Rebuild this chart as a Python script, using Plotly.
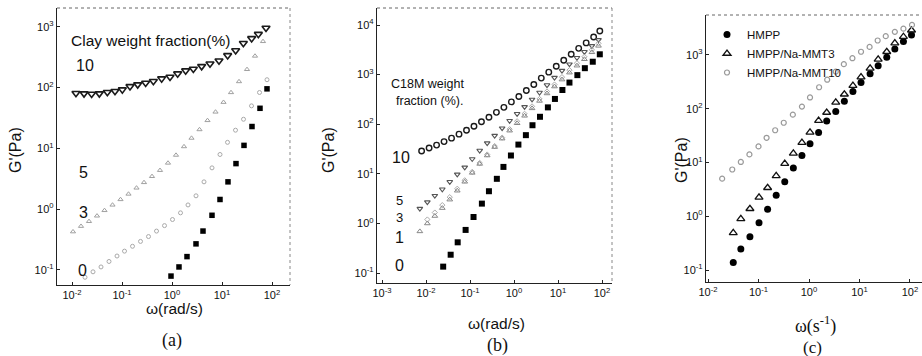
import plotly.graph_objects as go

W, H = 922, 356

# ---------------- Panel (a): clay weight fraction ----------------
a_w10 = [0.0120, 0.0174, 0.0247, 0.0352, 0.0509, 0.0724, 0.1016, 0.1445, 0.206, 0.297,
         0.424, 0.621, 0.912, 1.297, 1.875, 2.673, 3.917, 5.754, 8.71, 12.97,
         18.75, 26.73, 39.17, 53.33, 75.86]
a_g10 = [80.7, 79.8, 78.7, 79.8, 83.8, 87.1, 92.7, 104.7, 112.2, 119.4,
         127.1, 140.6, 149.6, 169.8, 190.1, 202.3, 223.9, 247.2, 277.3, 338.8,
         407.4, 537.0, 645.7, 758.6, 955.0]

a_w5 = [0.01047, 0.01514, 0.02188, 0.03162, 0.04467, 0.06457, 0.09333, 0.1349, 0.1950, 0.2754,
        0.3981, 0.5754, 0.8318, 1.202, 1.738, 2.455, 3.548, 5.129, 7.413, 10.72,
        15.14, 21.88, 31.62, 45.71, 66.07]
a_g5 = [0.4266, 0.5248, 0.631, 0.7762, 0.955, 1.175, 1.445, 1.778, 2.239, 2.754,
        3.467, 4.365, 5.754, 7.762, 10.72, 14.79, 20.42, 28.84, 39.81, 57.54,
        83.18, 125.9, 199.5, 331.1, 575.4]

a_w3 = [0.01820, 0.02630, 0.03802, 0.05495, 0.07943, 0.1122, 0.1622, 0.2344, 0.3388, 0.4898,
        0.7079, 1.023, 1.479, 2.089, 3.020, 4.365, 6.310, 9.120, 12.88, 18.62,
        26.92, 38.90, 56.23, 79.43]
a_g3 = [0.0759, 0.0933, 0.1122, 0.1380, 0.1698, 0.2042, 0.2455, 0.2951, 0.3548, 0.4365,
        0.5370, 0.6761, 0.8710, 1.175, 1.660, 2.818, 4.786, 7.943, 12.59, 19.95,
        30.20, 50.12, 83.18, 134.9]

a_w0 = [0.955, 1.380, 1.995, 3.020, 4.169, 6.310, 9.120, 13.18, 19.05, 27.54, 39.81, 57.54, 79.43]
a_g0 = [0.0794, 0.1122, 0.166, 0.269, 0.437, 0.794, 1.445, 2.818, 5.623, 11.22, 22.91, 45.71, 95.50]

# ---------------- Panel (b): C18M weight fraction ----------------
b_w10 = [0.007943, 0.01175, 0.01738, 0.02570, 0.03802, 0.05623, 0.08318, 0.1230, 0.1820, 0.2692,
         0.3981, 0.5888, 0.8710, 1.288, 1.905, 2.818, 4.169, 6.166, 9.120, 13.49,
         19.95, 29.51, 43.65, 64.57, 89.13]
b_g10 = [28.84, 33.11, 38.02, 44.67, 52.48, 63.10, 75.86, 91.20, 112.2, 138.0,
         173.8, 218.8, 281.8, 363.1, 478.6, 631.0, 851.1, 1122, 1479, 1950,
         2570, 3388, 4365, 5754, 7586]

b_w = [0.007244, 0.01072, 0.01585, 0.02344, 0.03467, 0.05129, 0.07586, 0.1122, 0.1660, 0.2455,
       0.3631, 0.5370, 0.7943, 1.175, 1.738, 2.570, 3.802, 5.623, 8.318, 12.30,
       18.20, 26.92, 39.81, 58.88, 83.18]
b_g5 = [1.995, 2.692, 3.631, 4.898, 6.918, 9.772, 13.49, 19.95, 29.51, 41.69,
        58.88, 83.18, 117.5, 162.2, 223.9, 316.2, 436.5, 616.6, 871.0, 1202,
        1622, 2188, 2884, 3802, 5012]
b_g3 = [None, 1.202, 1.660, 2.344, 3.388, 5.012, 7.413, 10.96, 16.60, 24.55,
        36.31, 53.70, 79.43, 114.8, 162.2, 229.1, 323.6, 457.1, 631.0, 891.3,
        1230, 1698, 2291, 3162, 4266]
b_g1 = [0.6918, 1.0, 1.413, 2.042, 3.020, 4.571, 6.918, 10.47, 15.85, 23.44,
        34.67, 51.29, 74.13, 104.7, 147.9, 208.9, 295.1, 416.9, 575.4, 794.3,
        1096, 1514, 2042, 2818, 3802]

b_w0 = [0.02455, 0.03631, 0.05248, 0.07943, 0.1202, 0.1862, 0.2692, 0.4074, 0.5754, 0.8511,
        1.259, 1.862, 2.630, 3.890, 5.888, 8.511, 12.59, 18.20, 27.54, 40.74, 61.66, 89.13]
b_g0 = [0.1349, 0.2344, 0.4169, 0.7413, 1.349, 2.512, 4.467, 7.943, 13.80, 23.44,
        38.90, 60.26, 95.50, 141.3, 218.8, 323.6, 489.8, 691.8, 977.2, 1349, 1820, 2570]

# ---------------- Panel (c): HMPP series ----------------
c_w = [0.03162, 0.04467, 0.06761, 0.1023, 0.1514, 0.2239, 0.3311, 0.4898, 0.7244, 1.047,
       1.549, 2.239, 3.388, 5.012, 7.413, 10.72, 16.22, 23.44, 34.67, 50.12, 74.13, 107.2]
c_hmpp = [0.1380, 0.2455, 0.4169, 0.7586, 1.349, 2.455, 4.365, 7.943, 13.49, 22.39,
          36.31, 58.88, 89.13, 138.0, 208.9, 309.0, 446.7, 631.0, 912.0, 1288, 1778, 2344]
c_mmt3 = [0.4898, 0.8913, 1.380, 2.239, 3.388, 5.623, 9.550, 14.79, 23.44, 36.31,
          60.26, 85.11, 131.8, 186.2, 269.2, 389.0, 562.3, 831.8, 1148, 1660, 2188, 2884]
c_w10 = [0.01905, 0.03020, 0.04467, 0.06607, 0.1, 0.1445, 0.2138, 0.3162, 0.4786, 0.7244,
         1.047, 1.585, 2.291, 3.388, 4.898, 7.244, 10.72, 15.85, 22.91, 33.11, 50.12, 74.13, 109.6]
c_mmt10 = [5.012, 7.413, 10.23, 14.13, 19.95, 28.84, 39.81, 54.95, 77.62, 109.6,
           162.2, 251.2, 346.7, 489.8, 676.1, 871.0, 1148, 1413, 1862, 2239, 2692, 3090, 3631]
c_names = ["HMPP", "HMPP/Na-MMT3", "HMPP/Na-MMT10"]

# tick labels
a_xt = [0.01, 0.1, 1, 10, 100]
a_xl = ["10<sup>-2</sup>", "10<sup>-1</sup>", "10<sup>0</sup>", "10<sup>1</sup>", "10<sup>2</sup>"]
a_yt = [0.1, 1, 10, 100, 1000]
a_yl = ["10<sup>-1</sup>", "10<sup>0</sup>", "10<sup>1</sup>", "10<sup>2</sup>", "10<sup>3</sup>"]
b_xt = [0.001, 0.01, 0.1, 1, 10, 100]
b_xl = ["10<sup>-3</sup>"] + a_xl
b_yt = [0.1, 1, 10, 100, 1000, 10000]
b_yl = a_yl + ["10<sup>4</sup>"]

FONT = "Liberation Sans"
SERIF = "Liberation Serif"
fig = go.Figure()


def px(x):
    return x / W


def py(y):
    return 1 - y / H


def add(x, y, sym, color, size, lw, xa, ya, name=None, legend=False):
    fig.add_trace(go.Scatter(
        x=x, y=y, mode="markers", name=name, showlegend=legend,
        xaxis=xa, yaxis=ya,
        marker=dict(symbol=sym, color=color, size=size, line=dict(width=lw, color=color))))


# panel a
add(a_w10, a_g10, "triangle-down-open", "#1a1a1a", 7, 1.6, "x", "y")
add(a_w5, a_g5, "triangle-up-open", "#a0a0a0", 4.5, 1.0, "x", "y")
add(a_w3, a_g3, "circle-open", "#aaaaaa", 4, 1.0, "x", "y")
add(a_w0, a_g0, "square", "#000000", 5.5, 0, "x", "y")
# panel b
add(b_w10, b_g10, "circle-open", "#1a1a1a", 5.5, 1.4, "x2", "y2")
add(b_w, b_g5, "triangle-down-open", "#555555", 5, 1.1, "x2", "y2")
add(b_w, b_g3, "diamond-open", "#aaaaaa", 4, 1.0, "x2", "y2")
add(b_w, b_g1, "triangle-up-open", "#888888", 5, 1.0, "x2", "y2")
add(b_w0, b_g0, "square", "#000000", 6, 0, "x2", "y2")
# panel c
add(c_w, c_hmpp, "circle", "#000000", 7, 0, "x3", "y3", c_names[0], True)
add(c_w, c_mmt3, "triangle-up-open", "#111111", 7, 1.3, "x3", "y3", c_names[1], True)
add(c_w10, c_mmt10, "circle-open", "#9a9a9a", 5, 1.2, "x3", "y3", c_names[2], True)

tickfont = dict(family=FONT, size=11, color="#111")


def axis(domain, rng, tv, tt):
    return dict(type="log", domain=domain, range=rng, tickvals=tv, ticktext=tt,
                showline=True, linecolor="#222", linewidth=1.3, mirror=False,
                ticks="inside", ticklen=3, tickcolor="#222", automargin=False,
                showgrid=False, zeroline=False, tickfont=tickfont)


ax = axis([px(57), px(290)], [-2.3, 2.36], a_xt, a_xl)
ay = axis([py(285), py(8)], [-1.247, 3.31], a_yt, a_yl)
bx = axis([px(377), px(612)], [-3.114, 2.227], b_xt, b_xl)
by = axis([py(283), py(8)], [-1.2, 4.343], b_yt, b_yl)
cx = axis([px(706), 1.0], [-2.04, 2.238], a_xt, a_xl)
cy = axis([py(282), py(15)], [-1.223, 3.744], a_yt, a_yl)
ay["anchor"] = "x"; ax["anchor"] = "y"
bx["anchor"] = "y2"; by["anchor"] = "x2"
cx["anchor"] = "y3"; cy["anchor"] = "x3"

fig.update_layout(
    width=W, height=H, margin=dict(l=0, r=0, t=0, b=0, pad=0, autoexpand=False),
    paper_bgcolor="white", plot_bgcolor="white",
    font=dict(family=FONT, color="#111"),
    xaxis=ax, yaxis=ay, xaxis2=bx, yaxis2=by, xaxis3=cx, yaxis3=cy,
    legend=dict(x=px(707), y=py(20), xanchor="left", yanchor="top",
                bgcolor="rgba(0,0,0,0)", font=dict(family=FONT, size=11.5, color="#111"),
                tracegroupgap=0, itemwidth=30),
)

# dotted top / right frame lines (scan look)
shapes = []
for (x0, x1, y0, y1) in [(57, 290, 8, 285), (377, 612, 8, 283)]:
    shapes.append(dict(type="line", xref="paper", yref="paper", x0=px(x0), x1=px(x1), y0=py(y0), y1=py(y0),
                       line=dict(color="#666", width=1, dash="dot")))
    shapes.append(dict(type="line", xref="paper", yref="paper", x0=px(x1), x1=px(x1), y0=py(y0), y1=py(y1),
                       line=dict(color="#888", width=1, dash="dot")))
shapes.append(dict(type="line", xref="paper", yref="paper", x0=px(706), x1=1.0, y0=py(15), y1=py(15),
                   line=dict(color="#666", width=1, dash="dot")))
fig.update_layout(shapes=shapes)


def txt(x, y, s, size=13, anchor="center", angle=0, family=FONT, color="#111"):
    fig.add_annotation(x=px(x), y=py(y), xref="paper", yref="paper", text=s, showarrow=False,
                       xanchor=anchor, yanchor="middle", textangle=angle,
                       font=dict(family=family, size=size, color=color))


# panel a texts
txt(15, 150, "G'(Pa)", 16, angle=-90)
txt(69, 40, "Clay weight fraction(%)", 15.5, anchor="left")
txt(85, 65, "10", 16)
txt(83, 172, "5", 16)
txt(83, 212, "3", 16)
txt(82, 270, "0", 16)
txt(174, 308, "ω(rad/s)", 15.5)
txt(172, 340, "(a)", 18, family=SERIF)

# panel b texts
txt(328, 150, "G'(Pa)", 16, angle=-90)
txt(389, 84, "C18M weight", 12.5, anchor="left")
txt(394, 101, "fraction (%).", 12.5, anchor="left")
txt(401, 157, "10", 16)
txt(399, 209, "5<br>3", 13)
txt(399, 237, "1", 16)
txt(399, 265, "0", 16)
txt(496, 323, "ω(rad/s)", 15.5)
txt(497, 345, "(b)", 18, family=SERIF)

# panel c texts
txt(681, 160, "G'(Pa)", 16, angle=-90)
txt(815, 325, "ω(s<sup>-1</sup>)", 18, family=SERIF)
txt(812, 347, "(c)", 17, family=SERIF)

fig.write_html("out.html", config={"displayModeBar": False},
               post_script="document.body.style.margin='0';")
